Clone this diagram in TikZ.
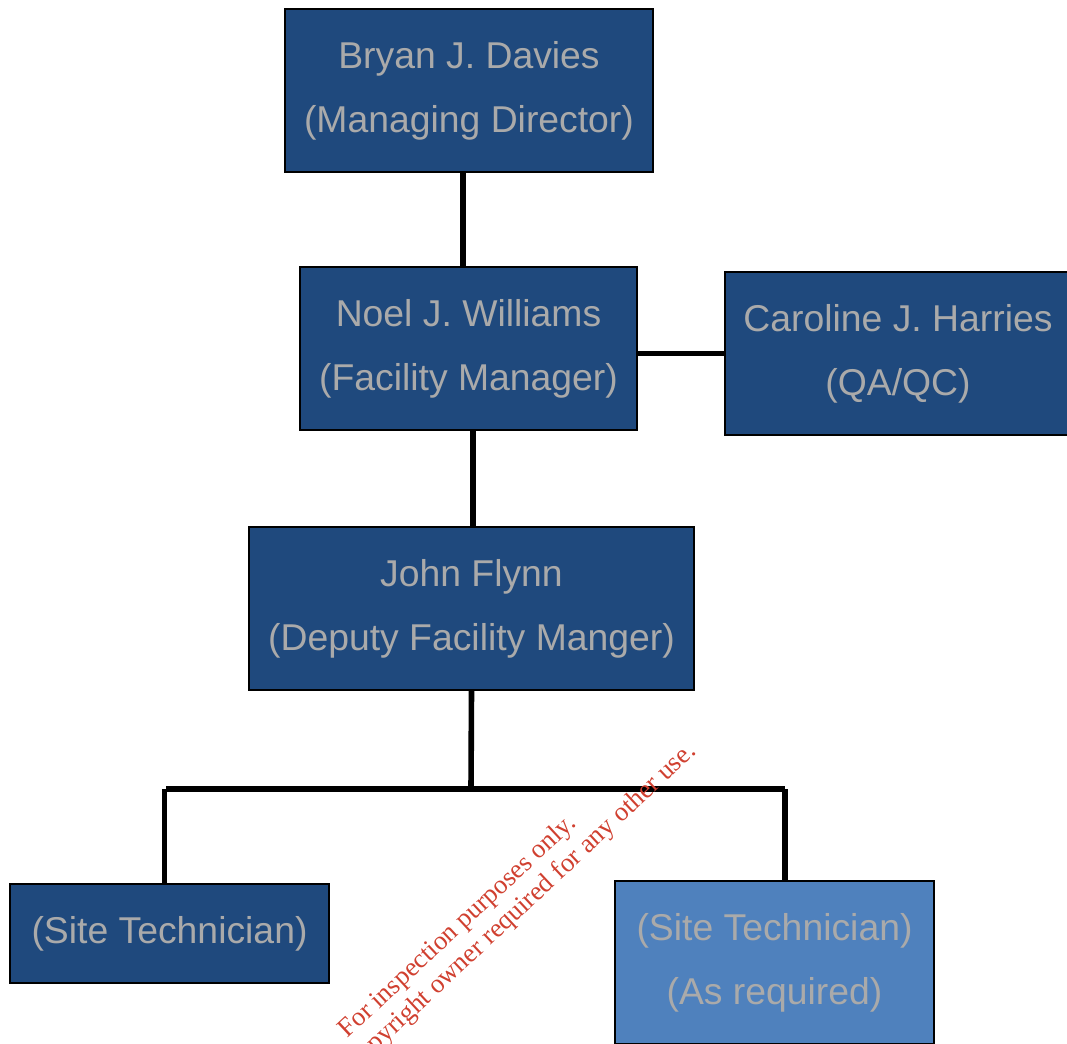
\documentclass[tikz,border=0pt]{standalone}
\usepackage{fontspec}
\setmainfont{Liberation Sans}
\newfontfamily\wmfont{Liberation Serif}
\definecolor{boxblue}{RGB}{31,73,125}
\definecolor{lightblue}{RGB}{79,129,189}
\definecolor{namegray}{RGB}{170,170,170}
\definecolor{wmred}{RGB}{208,64,48}
\tikzset{
    person/.style={draw=black, line width=1pt, fill=boxblue, text=namegray,
        inner sep=0pt, align=center, font=\fontsize{28}{48}\selectfont,
        minimum height=122.25pt},
    link/.style={line width=4.2pt}
}
\begin{document}
\begin{tikzpicture}[x=0.75pt, y=-0.75pt]
    \useasboundingbox (0, 0) rectangle (1067, 1044);
    \clip (0, 0) rectangle (1067, 1044);
    \node [person, minimum width=276pt] (davies) at (469, 90.5)
        {Bryan J. Davies\\(Managing Director)};
    \node [person, minimum width=252.75pt] (williams) at (468.5, 348.5)
        {Noel J. Williams\\(Facility Manager)};
    \node [person, minimum width=259.5pt] (harries) at (898, 353.5)
        {Caroline J. Harries\\(QA/QC)};
    \node [person, minimum width=333.75pt] (flynn) at (471.5, 608.5)
        {John Flynn\\(Deputy Facility Manger)};
    \node [person, minimum width=239.25pt, minimum height=74.25pt] (techa) at (169.5, 933.5)
        {(Site Technician)};
    \node [person, fill=lightblue, minimum width=239.25pt] (techb) at (774.5, 962.5)
        {(Site Technician)\\(As required)};
    % bus under the deputy
    \coordinate (bus) at (471, 789);
    \coordinate (busa) at (166, 789);
    \coordinate (busb) at (785, 789);
    \draw [link] ([xshift=-4.5pt]davies.south) -- ([xshift=-4.5pt]davies.south |- williams.north);
    \draw [link] (harries.west -| williams.east) -- (harries.west);
    \draw [link] ([xshift=3.4pt]williams.south) -- ([xshift=3.4pt]williams.south |- flynn.north);
    \draw [link] (flynn.south) -- (bus);
    \draw [link] (busa) -- (busb);
    \draw [link] ([xshift=-1pt]busa) -- ([xshift=-1pt]busa |- techa.north);
    \draw [link] (busb) -- (busb |- techb.north);
    % watermark
    \node [text=wmred, font=\wmfont\fontsize{20}{22}\selectfont, align=center, rotate=43] (stamp)
        at (468, 938) {For inspection purposes only.\\Consent of copyright owner required for any other use.};
\end{tikzpicture}
\end{document}
